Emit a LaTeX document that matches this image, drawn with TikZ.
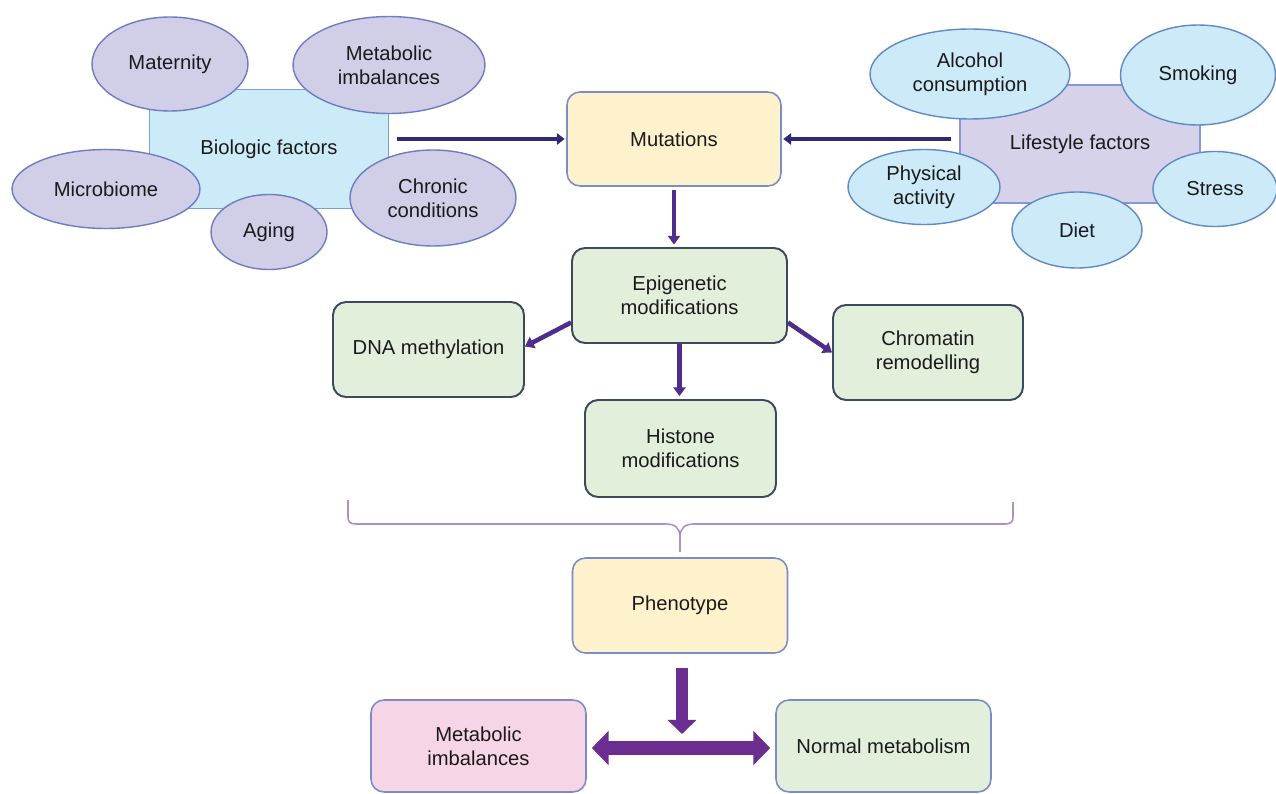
\documentclass[tikz,border=0pt]{standalone}
\usepackage{fontspec}
\setmainfont{Liberation Sans}
\usetikzlibrary{shapes.geometric,arrows.meta,calc}
\definecolor{lavfill}{HTML}{D1CEE8}
\definecolor{lavdraw}{HTML}{6F7CBF}
\definecolor{bluefill}{HTML}{CDEAF8}
\definecolor{bluedraw}{HTML}{6089C6}
\definecolor{biofill}{HTML}{CCEBF8}
\definecolor{biodraw}{HTML}{7E9ED4}
\definecolor{lifefill}{HTML}{D5D2EA}
\definecolor{lifedraw}{HTML}{8A97CF}
\definecolor{yelfill}{HTML}{FEF2CD}
\definecolor{boxdraw}{HTML}{7D8CC8}
\definecolor{grnfill}{HTML}{E2EFDB}
\definecolor{grndraw}{HTML}{3D4A5E}
\definecolor{pinkfill}{HTML}{F6D5E6}
\definecolor{navy}{HTML}{2D2C72}
\definecolor{arrpurple}{HTML}{4E2D8C}
\definecolor{fatpurple}{HTML}{6B2D90}
\definecolor{bracecol}{HTML}{A892C8}
\definecolor{txt}{HTML}{1A1A1A}
\begin{document}
\begin{tikzpicture}[x=0.02cm,y=-0.02cm,
  every node/.style={font=\fontsize{11.5}{13.6}\selectfont, text=txt, align=center},
  lel/.style={ellipse, draw=lavdraw, fill=lavfill, line width=0.8pt, inner sep=0pt},
  bel/.style={ellipse, draw=bluedraw, fill=bluefill, line width=0.8pt, inner sep=0pt},
  factorbox/.style={rectangle, line width=0.8pt, inner sep=0pt},
  ybox/.style={rectangle, rounded corners=0.26cm, draw=boxdraw, fill=yelfill, line width=0.9pt, inner sep=0pt},
  gbox/.style={rectangle, rounded corners=0.26cm, draw=grndraw, fill=grnfill, line width=1.1pt, inner sep=0pt},
  thinarrow/.style={draw=navy, line width=2.2pt, -{Triangle[length=4.5pt,width=6.5pt]}},
  midarrow/.style={draw=arrpurple, line width=2.6pt, -{Triangle[length=5pt,width=7pt]}},
  bracestyle/.style={draw=bracecol, line width=0.9pt},
]
\useasboundingbox (0,0) rectangle (1276,794);
\fill[white] (0,0) rectangle (1276,794);

% Biologic factors cluster
\node[factorbox, draw=biodraw, fill=biofill, minimum width=4.78cm, minimum height=2.38cm] (bio) at (269,149) {Biologic factors};
\node[lel, minimum width=3.12cm, minimum height=1.88cm] (mat) at (170,64) {Maternity};
\node[lel, minimum width=3.84cm, minimum height=1.94cm] (metb) at (389,65) {Metabolic\\imbalances};
\node[lel, minimum width=3.76cm, minimum height=1.58cm] (mic) at (106,189) {Microbiome};
\node[lel, minimum width=2.32cm, minimum height=1.5cm] (age) at (269,232) {Aging};
\node[lel, minimum width=3.32cm, minimum height=1.92cm] (chr) at (433,198) {Chronic\\conditions};

% Lifestyle factors cluster
\node[factorbox, draw=lifedraw, fill=lifefill, minimum width=4.8cm, minimum height=2.36cm] (life) at (1080,144) {Lifestyle factors};
\node[bel, minimum width=4.0cm, minimum height=1.8cm] (alc) at (970,74) {Alcohol\\consumption};
\node[bel, minimum width=3.1cm, minimum height=2.0cm] (smk) at (1198,75) {Smoking};
\node[bel, minimum width=3.04cm, minimum height=1.5cm] (phy) at (924,187) {Physical\\activity};
\node[bel, minimum width=2.48cm, minimum height=1.5cm] (str) at (1215,189) {Stress};
\node[bel, minimum width=2.6cm, minimum height=1.52cm] (diet) at (1077,230) {Diet};

% Central boxes
\node[ybox, minimum width=4.28cm, minimum height=1.88cm] (mut) at (674,139) {Mutations};
\node[gbox, minimum width=4.3cm, minimum height=1.9cm] (epi) at (679.5,295.5) {Epigenetic\\modifications};
\node[gbox, minimum width=3.82cm, minimum height=1.9cm] (dna) at (428.5,349.5) {DNA methylation};
\node[gbox, minimum width=3.8cm, minimum height=1.9cm] (chrom) at (928,352.5) {Chromatin\\remodelling};
\node[gbox, minimum width=3.82cm, minimum height=1.94cm] (his) at (680.5,448.5) {Histone\\modifications};
\node[ybox, minimum width=4.3cm, minimum height=1.9cm] (phe) at (680,605.5) {Phenotype};
\node[ybox, fill=pinkfill, minimum width=4.3cm, minimum height=1.84cm] (mib) at (478.5,746) {Metabolic\\imbalances};
\node[ybox, fill=grnfill, minimum width=4.3cm, minimum height=1.84cm] (nor) at (883.5,746) {Normal metabolism};

% Arrows
\draw[thinarrow, shorten <=0.16cm, shorten >=0.03cm] (bio.east |- mut.west) -- (mut.west);
\draw[thinarrow, shorten <=0.16cm, shorten >=0.03cm] (life.west |- mut.east) -- (mut.east);
\draw[midarrow, shorten <=0.06cm, shorten >=0.05cm] (mut.south) -- (mut.south |- epi.north);
\draw[midarrow] ($(epi.west)+(0,27)$) -- ($(dna.east)+(0,-3)$);
\draw[midarrow] ($(epi.east)+(0,27)$) -- ($(chrom.west)+(0,0)$);
\draw[midarrow, shorten >=0.06cm] (epi.south) -- (epi.south |- his.north);

% Brace
\coordinate (brL) at (348,500);
\coordinate (brR) at (1013,502);
\coordinate (brTip) at (680,552);
\draw[bracestyle] (brL) -- (348,517) .. controls (348,522) and (350,524) .. (356,524) -- (666,524) .. controls (675,524) and (680,528) .. (680,537) -- (brTip);
\draw[bracestyle] (brR) -- (1013,517) .. controls (1013,522) and (1011,524) .. (1005,524) -- (694,524) .. controls (685,524) and (680,528) .. (680,537);

% Fat arrows
\coordinate (downtip) at (682,734);
\draw[draw=fatpurple, line width=6.8pt, -{Triangle[length=8pt,width=16pt]}] ($(phe.south -| downtip)+(0,14)$) -- (downtip);
\draw[draw=fatpurple, line width=8.5pt, {Triangle[length=9.6pt,width=19pt]}-{Triangle[length=9.6pt,width=19pt]}, shorten <=0.1cm, shorten >=0.1cm] ($(mib.east)+(0,2)$) -- ($(nor.west)+(0,2)$);
\end{tikzpicture}
\end{document}
